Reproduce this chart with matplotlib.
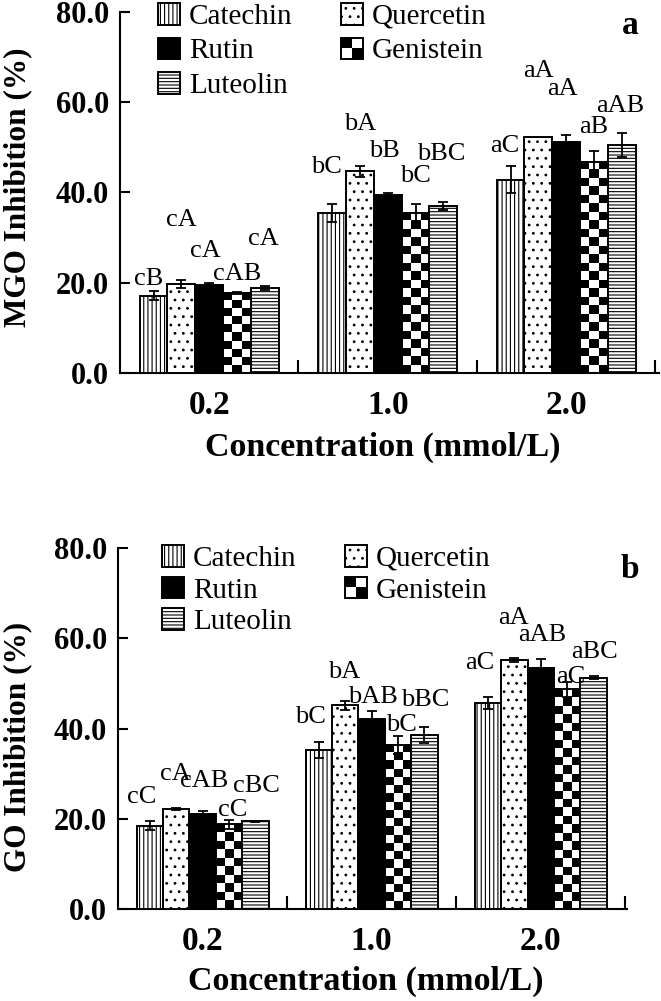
import matplotlib
matplotlib.use('Agg')
import matplotlib.pyplot as plt
import numpy as np
from matplotlib.legend_handler import HandlerBase
from matplotlib.patches import Rectangle, Patch
from matplotlib.ticker import FixedLocator

plt.rcParams['font.family'] = ['Liberation Serif', 'DejaVu Serif']
plt.rcParams['hatch.linewidth'] = 0.8

# ---- data ----
concentrations = ['0.2', '1.0', '2.0']
compounds = ['Catechin', 'Quercetin', 'Rutin', 'Genistein', 'Luteolin']

# MGO inhibition (%) - panel a
mgo_catechin = [17.1, 35.4, 42.8]
mgo_quercetin = [19.7, 44.7, 52.3]
mgo_rutin = [19.5, 39.5, 51.3]
mgo_genistein = [17.8, 35.5, 46.8]
mgo_luteolin = [18.9, 37.1, 50.5]
mgo_catechin_err = [1.0, 2.0, 3.0]
mgo_quercetin_err = [0.8, 1.2, 0.1]
mgo_rutin_err = [0.4, 0.3, 1.4]
mgo_genistein_err = [0.2, 2.0, 2.3]
mgo_luteolin_err = [0.4, 0.9, 2.6]
mgo_catechin_sig = ['cB', 'bC', 'aC']
mgo_quercetin_sig = ['cA', 'bA', 'aA']
mgo_rutin_sig = ['cA', 'bB', 'aA']
mgo_genistein_sig = ['cAB', 'bC', 'aB']
mgo_luteolin_sig = ['cA', 'bBC', 'aAB']

# GO inhibition (%) - panel b
go_catechin = [18.4, 35.2, 45.6]
go_quercetin = [22.2, 45.2, 55.2]
go_rutin = [21.0, 42.0, 53.3]
go_genistein = [18.8, 36.4, 48.7]
go_luteolin = [19.4, 38.5, 51.3]
go_catechin_err = [1.0, 1.8, 1.3]
go_quercetin_err = [0.2, 1.0, 0.5]
go_rutin_err = [0.7, 1.8, 2.0]
go_genistein_err = [1.0, 2.0, 1.7]
go_luteolin_err = [0.2, 1.8, 0.3]
go_catechin_sig = ['cC', 'bC', 'aC']
go_quercetin_sig = ['cA', 'bA', 'aA']
go_rutin_sig = ['cAB', 'bAB', 'aAB']
go_genistein_sig = ['cC', 'bC', 'aC']
go_luteolin_sig = ['cBC', 'bBC', 'aBC']

# where the letters sit (layout, in data units)
mgo_label_y = [[20.8, 45.6, 50.3], [34.0, 55.2, 67.0], [27.0, 49.3, 63.0],
               [22.0, 43.6, 54.6], [29.8, 48.6, 59.1]]
mgo_label_dx = [-0.03, 0.0, -0.02, 0.0, -0.01]
go_label_y = [[24.9, 42.6, 54.6], [30.0, 52.6, 64.5], [28.3, 46.9, 60.7],
              [22.0, 40.7, 51.5], [27.2, 46.3, 57.0]]
go_label_dx = [-0.05, -0.005, 0.01, 0.02, 0.005]

styles = {
    'Catechin': dict(facecolor='white', hatch='||||'),
    'Quercetin': dict(facecolor='white', hatch='..'),
    'Rutin': dict(facecolor='black', hatch=None),
    'Genistein': dict(facecolor='none', hatch=None),
    'Luteolin': dict(facecolor='white', hatch='-----'),
}


class CheckerHandler(HandlerBase):
    def create_artists(self, legend, orig_handle, xdescent, ydescent,
                       width, height, fontsize, trans):
        arts = []
        for i in range(2):
            for j in range(2):
                arts.append(Rectangle((-xdescent + i * width / 2, -ydescent + j * height / 2),
                                      width / 2, height / 2,
                                      facecolor='black' if (i + j) % 2 == 1 else 'white',
                                      edgecolor='none', transform=trans))
        arts.append(Rectangle((-xdescent, -ydescent), width, height, fill=False,
                              edgecolor='black', lw=1.4, transform=trans))
        return arts


fig = plt.figure(figsize=(6.61, 10.01), dpi=100)


def panel(rect, values, errors, sigs, label_y, label_dx, ylabel, ylab_pos,
          xlab_pos, xmax, letter, letter_pos, legend_top, legend_left, lab_spacing):
    ax = fig.add_axes(rect)
    x = np.arange(len(concentrations))
    width = 0.156
    ax_h_px = rect[3] * fig.get_figheight() * fig.dpi
    unit_px = ax_h_px / 80.0
    for k, name in enumerate(compounds):
        pos = x + (k - 2) * width
        st = styles[name]
        if name == 'Genistein':
            for xi, h in zip(pos, values[k]):
                nrows = max(1, int(round(h * unit_px / 8.3)))
                ii, jj = np.indices((nrows, 3))
                ax.imshow((ii + jj) % 2, cmap='gray', extent=(xi - width / 2, xi + width / 2, 0, h),
                          aspect='auto', interpolation='nearest', zorder=2)
        ax.bar(pos, values[k], width, facecolor=st['facecolor'], hatch=st['hatch'],
               edgecolor='black', linewidth=1.4, zorder=3)
        ax.errorbar(pos, values[k], yerr=errors[k], fmt='none', ecolor='black',
                    elinewidth=1.3, capsize=3.6, capthick=1.3, zorder=4)
        for xi, s, ly in zip(pos, sigs[k], label_y[k]):
            ax.text(xi + label_dx[k], ly, s, fontsize=19, ha='center', va='center', zorder=5)

    ax.set_xlim(-0.5, xmax)
    ax.set_ylim(0, 80)
    ax.spines['top'].set_visible(False)
    ax.spines['right'].set_visible(False)
    ax.spines['left'].set_linewidth(1.5)
    ax.spines['bottom'].set_linewidth(1.5)

    ax.set_yticks(np.arange(0, 81, 20))
    ax.set_yticklabels(['%.1f' % v for v in np.arange(0, 81, 20)], fontweight='bold', fontsize=22)
    ax.tick_params(axis='y', direction='in', length=7.5, width=1.5, pad=8)
    ax.set_xticks(x)
    ax.set_xticklabels(concentrations, fontweight='bold', fontsize=24)
    ax.tick_params(axis='x', which='major', length=0, pad=12)
    ax.xaxis.set_minor_locator(FixedLocator([0.5, 1.5, 2.5]))
    ax.tick_params(axis='x', which='minor', direction='in', length=9.5, width=1.5)

    ax.set_ylabel(ylabel, fontweight='bold', fontsize=22.5)
    ax.yaxis.set_label_coords(*ylab_pos)
    ax.set_xlabel('Concentration (mmol/L)', fontweight='bold', fontsize=24.5)
    ax.xaxis.set_label_coords(*xlab_pos)

    handles = []
    hmap = {}
    for name in ['Catechin', 'Rutin', 'Luteolin', 'Quercetin', 'Genistein']:
        st = styles[name]
        if name == 'Genistein':
            p = Patch(facecolor='white', edgecolor='black', label=name)
            hmap[p] = CheckerHandler()
        else:
            p = Patch(facecolor=st['facecolor'], hatch=st['hatch'], edgecolor='black',
                      linewidth=1.4, label=name)
        handles.append(p)
    fig.legend(handles=handles, handler_map=hmap, ncol=2, loc='upper left',
               bbox_to_anchor=(legend_left, legend_top), bbox_transform=fig.transFigure,
               frameon=False, fontsize=21, borderpad=0, borderaxespad=0,
               handlelength=0.76, handleheight=0.76, handletextpad=0.31,
               columnspacing=1.65, labelspacing=lab_spacing)

    fig.text(letter_pos[0], letter_pos[1], letter, fontsize=24, fontweight='bold',
             ha='center', va='center')
    return ax


panel([120 / 661, 1 - 373 / 1001, 539 / 661, 361 / 1001],
      [mgo_catechin, mgo_quercetin, mgo_rutin, mgo_genistein, mgo_luteolin],
      [mgo_catechin_err, mgo_quercetin_err, mgo_rutin_err, mgo_genistein_err, mgo_luteolin_err],
      [mgo_catechin_sig, mgo_quercetin_sig, mgo_rutin_sig, mgo_genistein_sig, mgo_luteolin_sig],
      mgo_label_y, mgo_label_dx, 'MGO Inhibition (%)', (-0.163, 0.515), (0.487, -0.162),
      2.52, 'a', (630 / 661, 1 - 25 / 1001), 1 - 3 / 1001, 158 / 661, 0.26)

panel([118 / 661, 1 - 909 / 1001, 509 / 661, 361 / 1001],
      [go_catechin, go_quercetin, go_rutin, go_genistein, go_luteolin],
      [go_catechin_err, go_quercetin_err, go_rutin_err, go_genistein_err, go_luteolin_err],
      [go_catechin_sig, go_quercetin_sig, go_rutin_sig, go_genistein_sig, go_luteolin_sig],
      go_label_y, go_label_dx, 'GO Inhibition (%)', (-0.169, 0.449), (0.487, -0.158),
      2.51, 'b', (630 / 661, 1 - 570 / 1001), 1 - 545 / 1001, 162 / 661, 0.16)

fig.savefig('out.png', dpi=100)
